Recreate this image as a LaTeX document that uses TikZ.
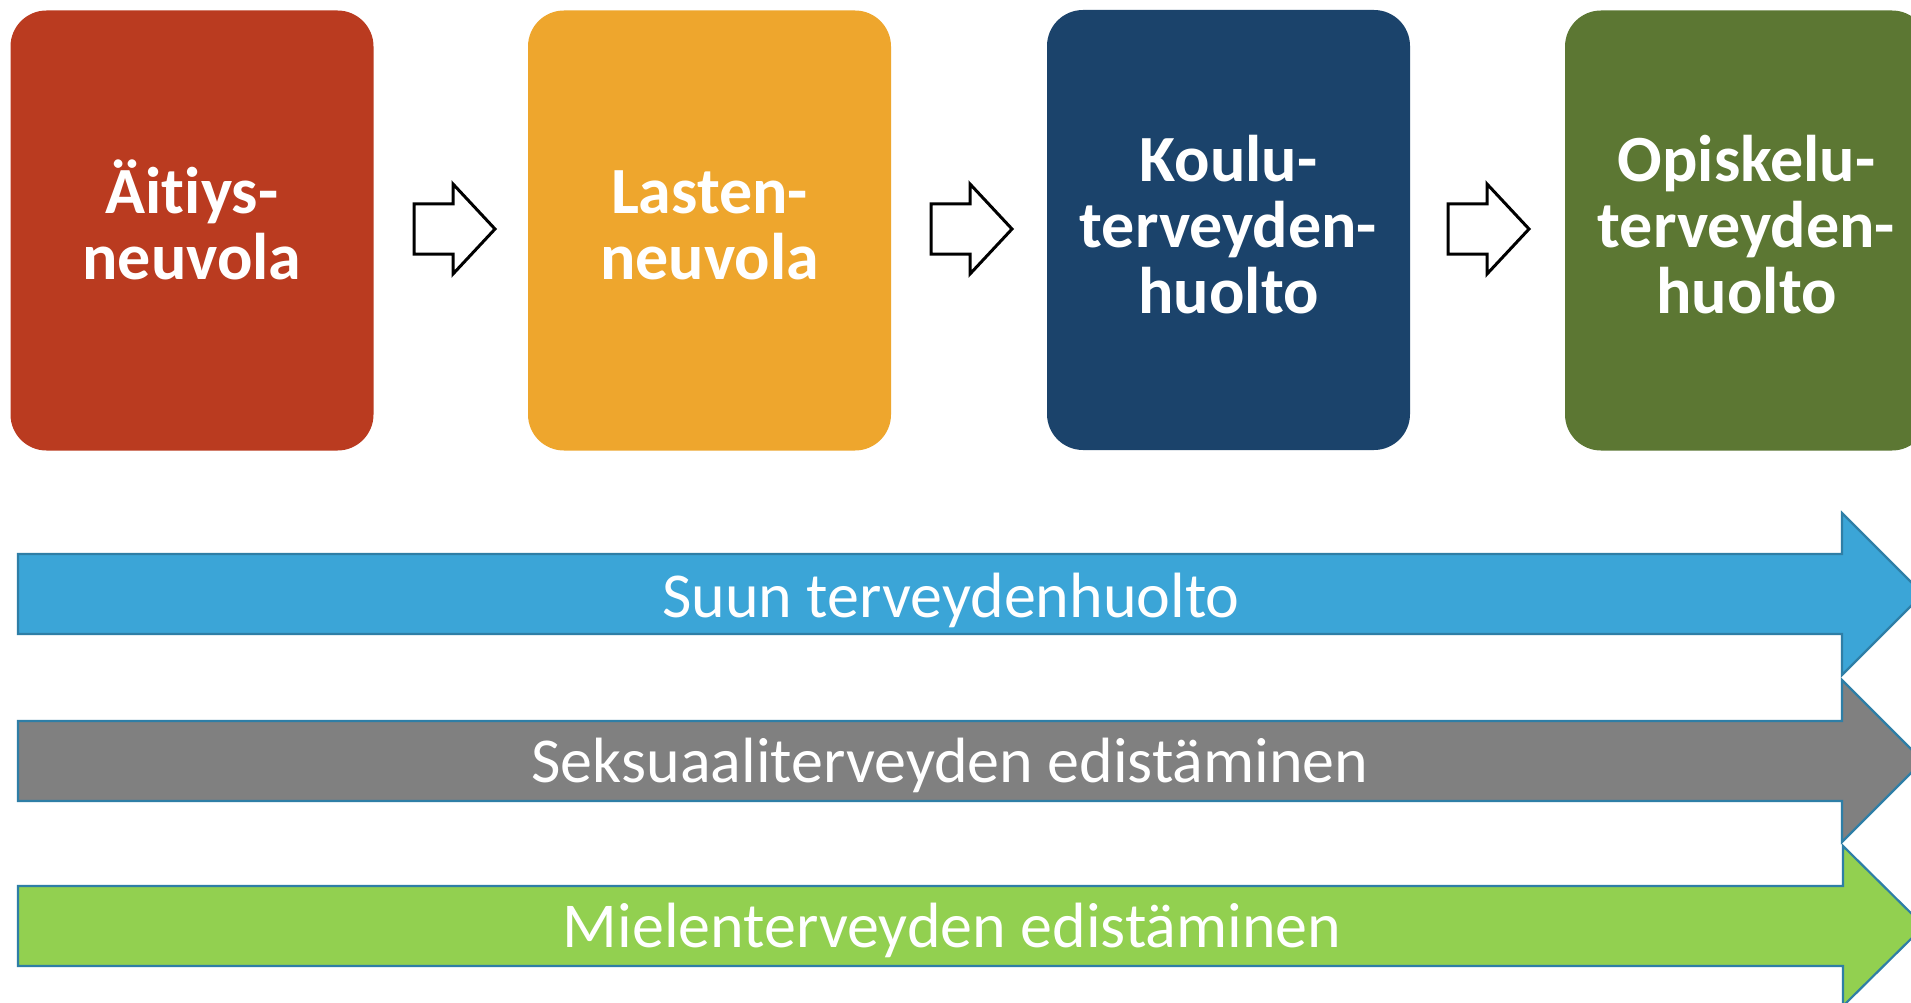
\documentclass[tikz,border=0pt]{standalone}
\usepackage{fontspec}
\setmainfont{Carlito}[Ligatures={NoCommon,TeX}]
\usetikzlibrary{calc}
\definecolor{cRed}{HTML}{BA3B20}
\definecolor{cOrange}{HTML}{EEA62D}
\definecolor{cNavy}{HTML}{1B436B}
\definecolor{cOlive}{HTML}{5C7733}
\definecolor{cBlue}{HTML}{3BA5D7}
\definecolor{cGray}{HTML}{808080}
\definecolor{cGreen}{HTML}{92D050}
\definecolor{cEdge}{HTML}{2E7EA6}
\renewcommand{\arraystretch}{1}
\tikzset{
  stagebox/.style={rectangle, rounded corners=36pt, inner sep=0pt, minimum width=363pt, minimum height=440pt, draw=none},
  stagetext/.style={anchor=base, inner sep=0pt, text=white, font=\fontsize{66}{65}\selectfont\bfseries},
  flowarrow/.style={draw=black, line width=3pt, fill=white, line join=miter},
  bandarrow/.style={draw=cEdge, line width=2.2pt, line join=miter},
  bandtext/.style={anchor=base, inner sep=0pt, text=white, font=\fontsize{64}{70}\selectfont},
  pics/stagearrow/.style={code={
    \draw[flowarrow] (0,-25) -- (39,-25) -- (39,-45) -- (81,0) -- (39,45) -- (39,25) -- (0,25) -- cycle;
  }}
}
\newcommand{\twoline}[2]{\begin{tabular}[t]{@{}c@{}}#1\\#2\end{tabular}}
\newcommand{\threeline}[3]{\begin{tabular}[t]{@{}c@{}}#1\\#2\\#3\end{tabular}}
\begin{document}
\begin{tikzpicture}[x=1pt, y=-1pt]
\useasboundingbox (0,0) rectangle (1911,1003);
\clip (0,0) rectangle (1911,1003);
\fill[white] (0,0) rectangle (1911,1003);
% stage boxes
\node[stagebox, fill=cRed] (b1) at (192,230.5) {};
\node[stagebox, fill=cOrange] (b2) at (709.5,230.5) {};
\node[stagebox, fill=cNavy] (b3) at (1228.5,230) {};
\node[stagebox, fill=cOlive] (b4) at (1746.5,230.5) {};
\node[stagetext] (t1) at (192,214) {\twoline{Äitiys-}{neuvola}};
\node[stagetext] (t2) at (709.5,214) {\twoline{Lasten-}{neuvola}};
\node[stagetext] (t3) at (1228.5,182) {\threeline{Koulu-}{terveyden-}{huolto}};
\node[stagetext] (t4) at (1746.5,182) {\threeline{Opiskelu-}{terveyden-}{huolto}};
% arrows between stages
\pic at (414,229) {stagearrow};
\pic at (931,229) {stagearrow};
\pic at (1448,229) {stagearrow};
% band arrows
\draw[bandarrow, fill=cBlue] (18,554) -- (1842,554) -- (1842,513) -- (1923,594) -- (1842,675) -- (1842,634) -- (18,634) -- cycle;
\draw[bandarrow, fill=cGray] (18,721) -- (1842,721) -- (1842,680) -- (1923,761) -- (1842,842) -- (1842,801) -- (18,801) -- cycle;
\draw[bandarrow, fill=cGreen] (18,886) -- (1843,886) -- (1843,846) -- (1924,926) -- (1843,1006) -- (1843,966) -- (18,966) -- cycle;
\node[bandtext] (s1) at (951,617) {Suun terveydenhuolto};
\node[bandtext] (s2) at (950,782) {Seksuaaliterveyden edistäminen};
\node[bandtext] (s3) at (952,947) {Mielenterveyden edistäminen};
\end{tikzpicture}
\end{document}
